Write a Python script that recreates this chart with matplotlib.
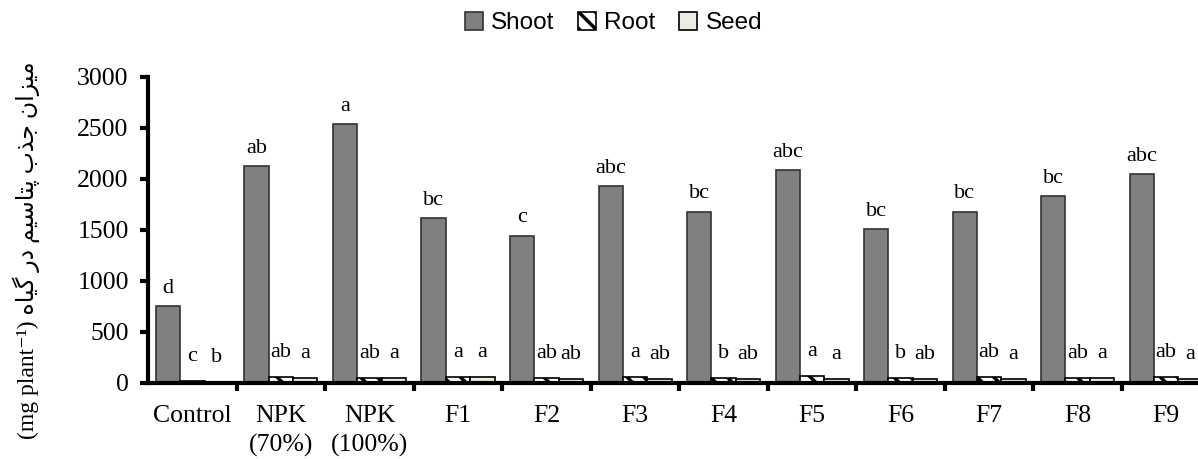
import matplotlib
matplotlib.use("Agg")
import matplotlib.pyplot as plt
import numpy as np

# treatment groups and values
categories = ["Control", "NPK\n(70%)", "NPK\n(100%)", "F1", "F2", "F3",
              "F4", "F5", "F6", "F7", "F8", "F9"]
shoot = [750, 2130, 2535, 1620, 1445, 1930, 1680, 2085, 1505, 1680, 1830, 2045]
root  = [15, 55, 50, 60, 45, 60, 50, 65, 50, 60, 50, 60]
seed  = [10, 45, 45, 55, 35, 40, 35, 40, 35, 40, 45, 40]
shoot_letters = ["d", "ab", "a", "bc", "c", "abc", "bc", "abc", "bc", "bc", "bc", "abc"]
root_letters  = ["c", "ab", "ab", "a", "ab", "a", "b", "a", "b", "ab", "ab", "ab"]
seed_letters  = ["b", "a", "a", "a", "ab", "ab", "ab", "a", "ab", "a", "a", "a"]
series_names = ["Shoot", "Root", "Seed"]

# Persian y label, pre-shaped (presentation forms) and put in visual order
fa_logical = ("\uFEE3\uFEF4\uFEB0\uFE8D\uFEE5" + " " +      # میزان
              "\uFE9F\uFEAC\uFE8F" + " " +                  # جذب
              "\uFB58\uFE98\uFE8E\uFEB3\uFEF4\uFEE2" + " " +  # پتاسیم
              "\uFEA9\uFEAD" + " " +                        # در
              "\uFB94\uFEF4\uFE8E\uFEE9")                   # گیاه
ylabel = "(mg plant\u207B\u00B9) " + fa_logical[::-1]

serif = ["Liberation Serif", "DejaVu Sans"]

fig = plt.figure(figsize=(11.98, 4.59), dpi=100)
ax = fig.add_axes([0.1237, 0.1656, 0.8763, 0.6667])

x = np.arange(len(categories))
w = 0.275
b1 = ax.bar(x - w, shoot, w, color="#808080", edgecolor="#333333", linewidth=1.2,
            label=series_names[0], zorder=2)
plt.rcParams["hatch.linewidth"] = 2.5
b2 = ax.bar(x, root, w, color="white", edgecolor="black", hatch="\\\\",
            linewidth=1.2, label=series_names[1], zorder=2)
b3 = ax.bar(x + w, seed, w, color="#EEECE1", edgecolor="black", linewidth=1.2,
            label=series_names[2], zorder=2)

for i in range(len(categories)):
    ax.text(x[i] - w, shoot[i] + 80, shoot_letters[i], ha="center", va="bottom",
            fontsize=16, family=serif)
    ax.text(x[i], root[i] + 150, root_letters[i], ha="center", va="bottom",
            fontsize=16, family=serif)
    ax.text(x[i] + w, seed[i] + 150, seed_letters[i], ha="center", va="bottom",
            fontsize=16, family=serif)

ax.set_ylim(0, 3000)
ax.set_xlim(-0.5, 11.36)
ax.set_yticks(np.arange(0, 3001, 500))
ax.set_xticks(x)
ax.set_xticklabels(categories, family=serif, fontsize=18.5, linespacing=1.4)
ax.set_xticks(np.arange(0.5, len(categories) - 0.5, 1), minor=True)
ax.tick_params(axis="x", which="major", length=0, pad=16)
ax.tick_params(axis="x", which="minor", length=6, width=3, direction="out")
ax.tick_params(axis="y", length=6, width=3, direction="out", labelsize=18.5, pad=8)
for lbl in ax.get_yticklabels():
    lbl.set_family(serif)

for s in ["top", "right"]:
    ax.spines[s].set_visible(False)
for s in ["left", "bottom"]:
    ax.spines[s].set_linewidth(3)

fig.text(0.022, 0.455, ylabel, rotation=90, ha="center", va="center",
         fontsize=17, family=serif)

fig.legend(handles=[b1, b2, b3], loc="center", bbox_to_anchor=(0.512, 0.950),
           ncol=3, frameon=False, prop={"family": "Liberation Sans", "size": 17.5},
           handlelength=0.75, handleheight=0.75, handletextpad=0.35,
           columnspacing=0.95)

fig.savefig("out.png", dpi=100)
